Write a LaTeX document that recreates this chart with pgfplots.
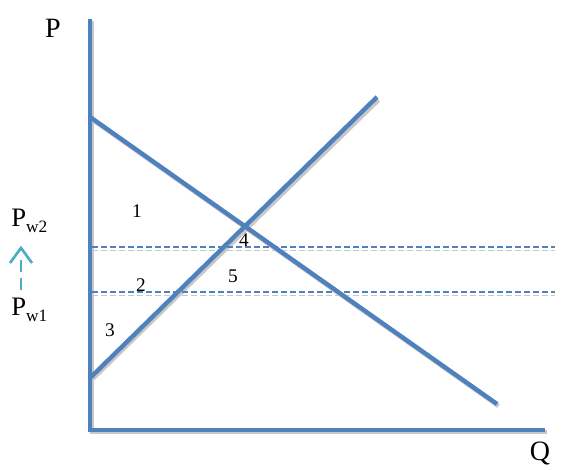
\documentclass[border=0pt]{standalone}
\usepackage{pgfplots}
\pgfplotsset{compat=1.18}
\usepackage{fontspec}
\setmainfont{Liberation Serif}
\definecolor{lblue}{HTML}{4F81BD}
\definecolor{acyan}{HTML}{4BACC6}
\definecolor{shad}{HTML}{C8C8C8}
\begin{document}
\begin{tikzpicture}
\begin{axis}[
  scale only axis, width=421.5pt, height=349.5pt,
  xmin=0, xmax=562, ymin=-466, ymax=0,
  hide axis, clip=false,
]
\addplot[draw=none, no marks] coordinates {(0,0) (562,-466)};
% shadows
\addplot[shad, line width=3.3pt, no marks] coordinates {(91.5,-119) (498.5,-406)};
\addplot[shad, line width=3.3pt, no marks] coordinates {(91.5,-380) (378.5,-100)};
\addplot[shad, line width=3.3pt, no marks] coordinates {(91.5,-21) (91.5,-432)};
\addplot[shad, line width=3.3pt, no marks] coordinates {(90,-432) (546.5,-432)};
\addplot[shad, line width=1.2pt, no marks, dash pattern=on 4.5pt off 2.25pt] coordinates {(92,-250.5) (555,-250.5)};
\addplot[shad, line width=1.2pt, no marks, dash pattern=on 4.5pt off 2.25pt] coordinates {(92,-295.5) (555,-295.5)};
% dashed world price lines
\addplot[lblue, line width=1.2pt, no marks, dash pattern=on 4.5pt off 2.25pt] coordinates {(92,-247) (555,-247)};
\addplot[lblue, line width=1.2pt, no marks, dash pattern=on 4.5pt off 2.25pt] coordinates {(92,-292) (555,-292)};
% axes
\addplot[lblue, line width=3.3pt, no marks] coordinates {(90,-19) (90,-432)};
\addplot[lblue, line width=3.3pt, no marks] coordinates {(88,-430) (545,-430)};
% demand and supply
\addplot[lblue, line width=3.3pt, no marks] coordinates {(90,-117) (497,-404)};
\addplot[lblue, line width=3.3pt, no marks] coordinates {(90,-378) (377,-97)};
% arrow
\addplot[acyan, line width=2pt, no marks, dash pattern=on 9pt off 4.5pt] coordinates {(21,-290) (21,-254)};
\addplot[acyan, line width=2pt, no marks] coordinates {(10,-263) (21,-248) (32,-263)};
% labels
\node[font=\fontsize{21}{22}\selectfont] at (axis cs:53,-28) {P};
\node[font=\fontsize{21}{22}\selectfont] at (axis cs:540,-454) {Q};
\node[font=\fontsize{20}{21}\selectfont, anchor=west, inner sep=0pt] at (axis cs:11,-221) {P\raisebox{-0.45ex}{\fontsize{13}{14}\selectfont w2}};
\node[font=\fontsize{20}{21}\selectfont, anchor=west, inner sep=0pt] at (axis cs:11,-310) {P\raisebox{-0.45ex}{\fontsize{13}{14}\selectfont w1}};
\node[font=\fontsize{14.5}{15}\selectfont] at (axis cs:137,-211) {1};
\node[font=\fontsize{14.5}{15}\selectfont] at (axis cs:141,-285) {2};
\node[font=\fontsize{14.5}{15}\selectfont] at (axis cs:110,-330) {3};
\node[font=\fontsize{14.5}{15}\selectfont] at (axis cs:244,-240) {4};
\node[font=\fontsize{14.5}{15}\selectfont] at (axis cs:233,-276) {5};
\end{axis}
\end{tikzpicture}
\end{document}
